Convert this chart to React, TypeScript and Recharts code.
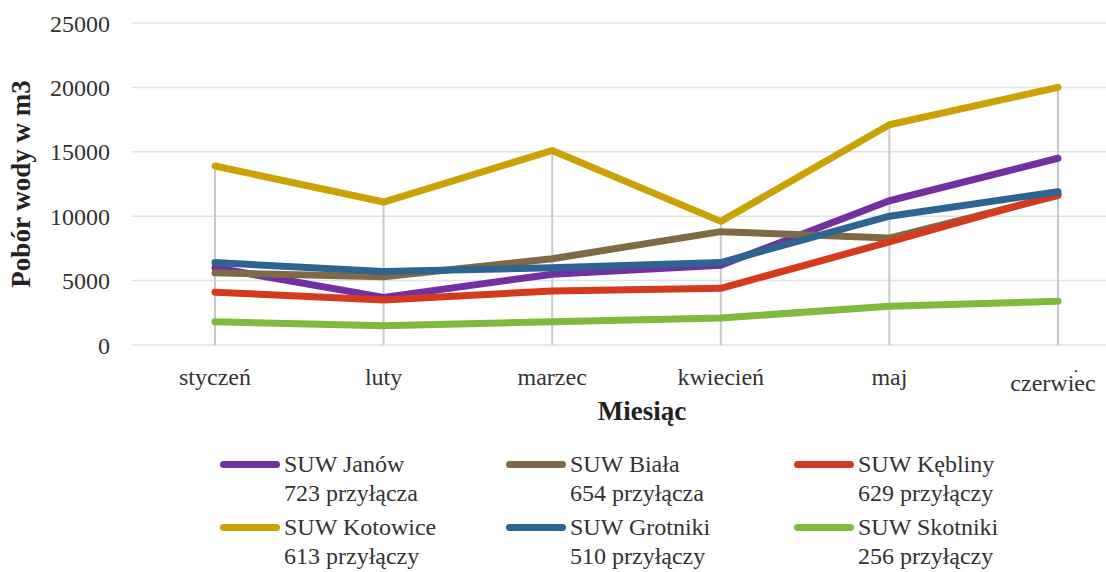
import React from "react";
import {
  LineChart,
  Line,
  XAxis,
  YAxis,
  CartesianGrid,
  ReferenceLine,
} from "recharts";

const months = ["styczeń", "luty", "marzec", "kwiecień", "maj", "czerwiec"];

const janow = [6000, 3700, 5500, 6200, 11200, 14500];
const biala = [5600, 5300, 6700, 8800, 8300, 11600];
const kebliny = [4100, 3500, 4200, 4400, 8000, 11700];
const kotowice = [13900, 11100, 15100, 9600, 17100, 20000];
const grotniki = [6400, 5700, 6000, 6400, 10000, 11900];
const skotniki = [1800, 1500, 1800, 2100, 3000, 3400];

const yTicks = [0, 5000, 10000, 15000, 20000, 25000];

const series = [
  { key: "janow", name: "SUW Janów", sub: "723 przyłącza", color: "#7330A0", values: janow },
  { key: "biala", name: "SUW Biała", sub: "654 przyłącza", color: "#806A45", values: biala },
  { key: "kebliny", name: "SUW Kębliny", sub: "629 przyłączy", color: "#D63A1E", values: kebliny },
  { key: "kotowice", name: "SUW Kotowice", sub: "613 przyłączy", color: "#CBA204", values: kotowice },
  { key: "grotniki", name: "SUW Grotniki", sub: "510 przyłączy", color: "#2E6491", values: grotniki },
  { key: "skotniki", name: "SUW Skotniki", sub: "256 przyłączy", color: "#7DBA3D", values: skotniki },
];

const data = months.map((m, i) => {
  const row: Record<string, string | number> = { month: m };
  series.forEach((s) => (row[s.key] = s.values[i]));
  return row;
});

const font = "'Liberation Serif', 'Times New Roman', serif";
const textColor = "#333333";

function MonthTick(props: any) {
  const { x, y, payload, index } = props;
  const last = index === months.length - 1;
  if (last) {
    // the original shows a clipped label with a second copy below it
    return (
      <g>
        <text x={x} y={y + 40} textAnchor="middle" fontFamily={font} fontSize={24} fill={textColor}>
          {payload.value}
        </text>
        <rect x={x - 60} y={y + 27} width={120} height={24} fill="#fff" />
        <text x={x - 5} y={y + 46} textAnchor="middle" fontFamily={font} fontSize={24} fill={textColor}>
          {payload.value}
        </text>
      </g>
    );
  }
  return (
    <text x={x} y={y + 40} textAnchor="middle" fontFamily={font} fontSize={24} fill={textColor}>
      {payload.value}
    </text>
  );
}

function ChartLegend() {
  const cols = [220, 506, 794];
  return (
    <div style={{ position: "absolute", left: 0, top: 450, width: 1106, height: 122 }}>
      {series.map((s, i) => {
        const col = i % 3;
        const row = Math.floor(i / 3);
        return (
          <div
            key={s.key}
            style={{
              position: "absolute",
              left: cols[col],
              top: row * 63,
              fontFamily: font,
              fontSize: 24,
              color: textColor,
              lineHeight: "29px",
            }}
          >
            <div
              style={{
                position: "absolute",
                left: 0,
                top: 11,
                width: 60,
                height: 7,
                borderRadius: 4,
                background: s.color,
              }}
            />
            <div style={{ marginLeft: 64, whiteSpace: "nowrap" }}>{s.name}</div>
            <div style={{ marginLeft: 64, whiteSpace: "nowrap" }}>{s.sub}</div>
          </div>
        );
      })}
    </div>
  );
}

export default function App() {
  return (
    <div style={{ position: "absolute", left: 0, top: 0, width: 1106, height: 572, background: "#fff" }}>
      <LineChart
        width={1106}
        height={572}
        data={data}
        margin={{ top: 23, right: 0, bottom: 0, left: 0 }}
      >
        <CartesianGrid vertical={false} stroke="#DFE2E5" strokeWidth={1.5} />
        {months.map((m, i) => (
          <ReferenceLine
            key={m}
            segment={[
              { x: m, y: 0 },
              { x: m, y: Math.max(...series.map((s) => s.values[i])) },
            ]}
            stroke="#C5CAD0"
            strokeWidth={2}
          />
        ))}
        <XAxis
          dataKey="month"
          axisLine={false}
          tickLine={false}
          tickSize={0}
          tickMargin={0}
          padding={{ left: 83, right: 48 }}
          tick={<MonthTick />}
          interval={0}
          height={227}
          label={(p: any) => {
            const vb = p.viewBox;
            return (
              <text
                x={642}
                y={(vb?.y ?? 345) + 75}
                textAnchor="middle"
                fontFamily={font}
                fontSize={27}
                fontWeight="bold"
                fill="#222"
              >
                Miesiąc
              </text>
            );
          }}
        />
        <YAxis
          domain={[0, 25000]}
          ticks={yTicks}
          axisLine={false}
          tickLine={false}
          tickSize={0}
          tickMargin={22}
          width={132}
          tick={{ fontFamily: font, fontSize: 24, fill: textColor }}
          label={{
            value: "Pobór wody w m3",
            angle: -90,
            position: "insideLeft",
            offset: 20,
            style: {
              fontFamily: font,
              fontSize: 27,
              fontWeight: "bold",
              fill: "#222",
              textAnchor: "middle",
            },
          }}
        />
        {series.map((s) => (
          <Line
            key={s.key}
            dataKey={s.key}
            name={s.name}
            type="linear"
            stroke={s.color}
            strokeWidth={7}
            strokeLinecap="round"
            strokeLinejoin="round"
            dot={false}
            activeDot={false}
            isAnimationActive={false}
          />
        ))}
      </LineChart>
      <ChartLegend />
    </div>
  );
}
